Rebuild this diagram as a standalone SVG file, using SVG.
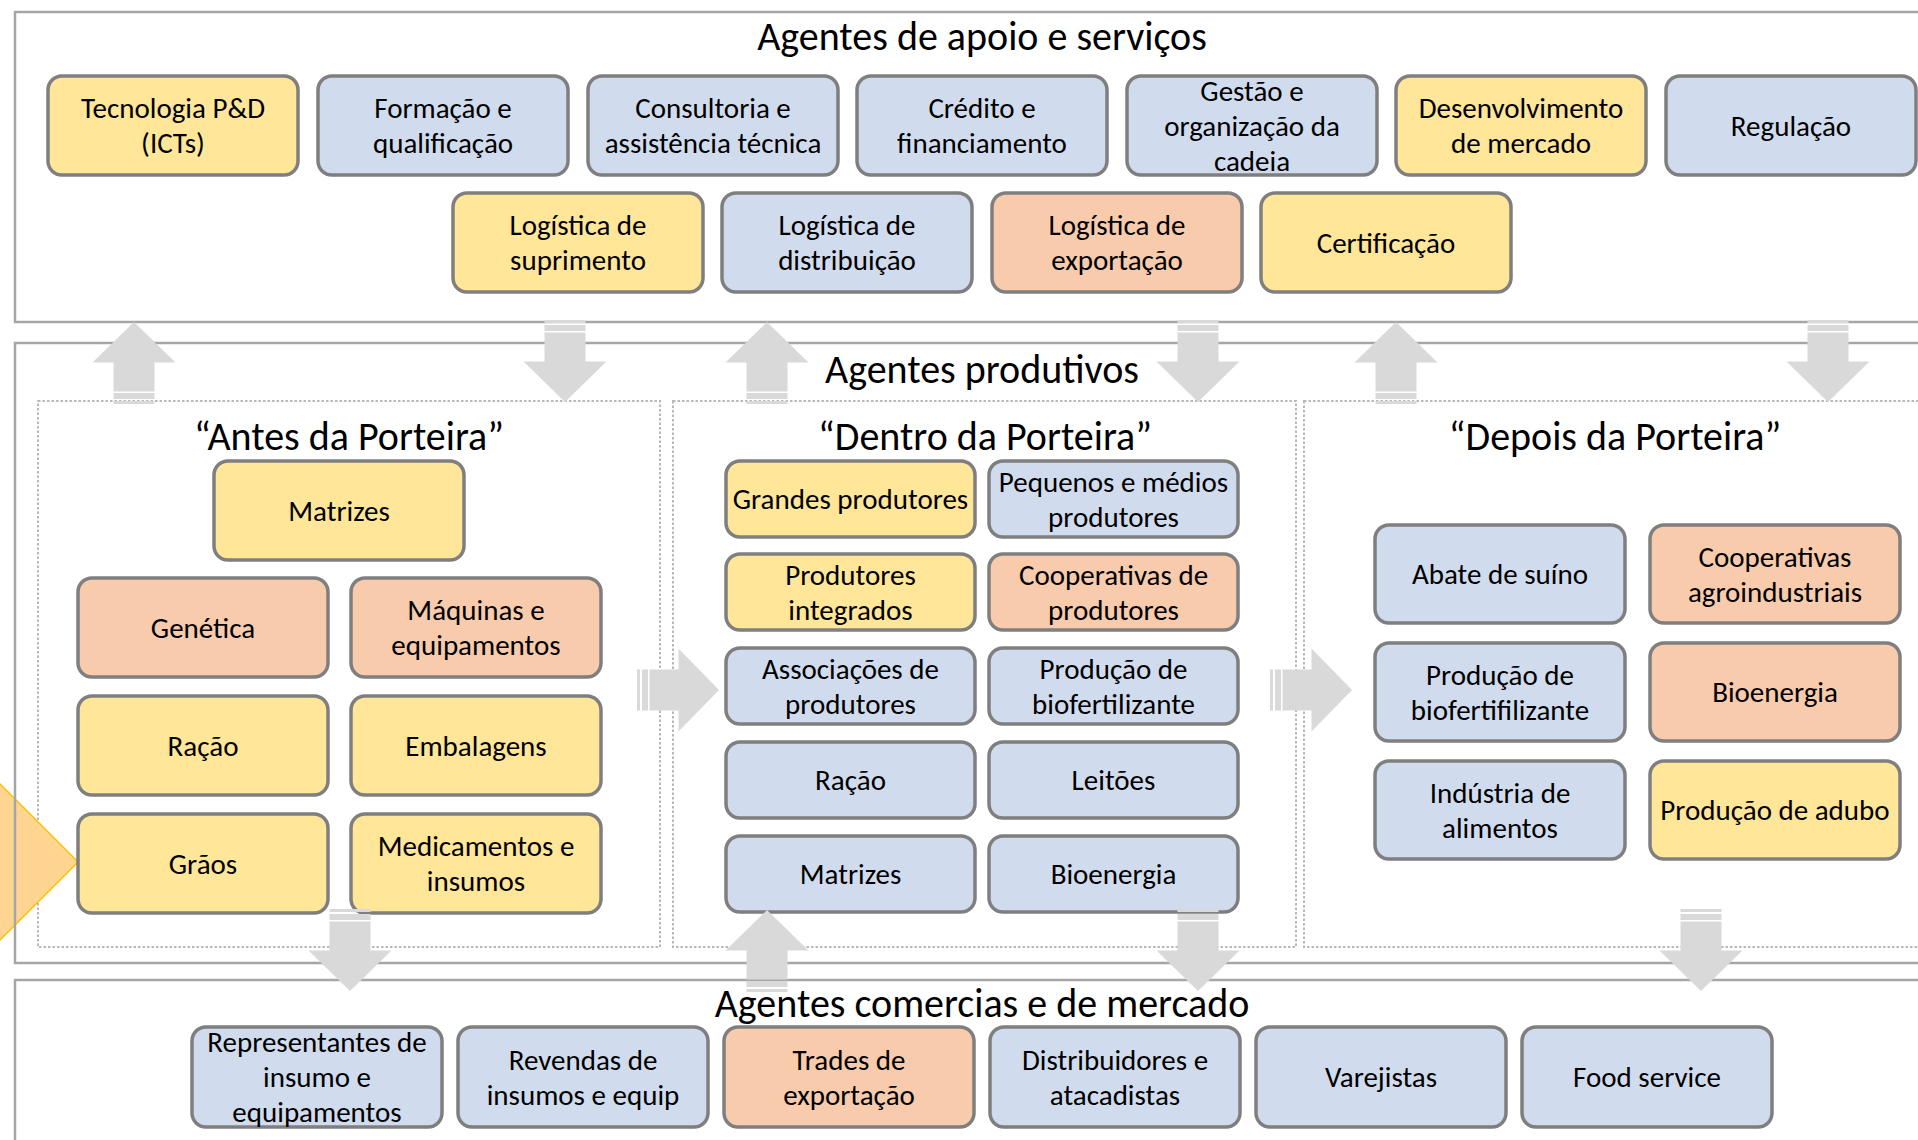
<svg xmlns="http://www.w3.org/2000/svg" xmlns:xlink="http://www.w3.org/1999/xlink" width="1918" height="1140" viewBox="0 0 1918 1140">
<style>
  text { font-family: Carlito, Calibri, Lato, "Liberation Sans", sans-serif; fill: #000; text-anchor: middle; }
  .t { font-size: 40px; }
  .n { font-size: 29px; }
  .frame { fill: none; stroke: #A6A6A6; stroke-width: 2.5; }
  .dot { fill: none; stroke: #B8B8B8; stroke-width: 2; stroke-dasharray: 2.5 2; }
  .box { stroke: #7F7F7F; stroke-width: 3.5; }
  .y { fill: #FFE699; }
  .b { fill: #D0DCEE; }
  .o { fill: #F8CBAD; }
  .arr { fill: #D9D9D9; }
</style>
<defs>
  <g id="arrow" class="arr">
    <rect x="-20.5" y="0" width="41" height="3"/>
    <rect x="-20.5" y="5" width="41" height="6"/>
    <path d="M-20.5 12.5H20.5V41.5H41.5L0 82L-41.5 41.5H-20.5Z"/>
  </g>
</defs>
<rect width="1918" height="1140" fill="#FFFFFF"/>
<g id="background">
  <rect class="dot" x="38" y="401" width="622" height="546"/>
  <rect class="dot" x="673" y="401" width="623" height="546"/>
  <rect class="dot" x="1304" y="401" width="650" height="546"/>
  <polygon points="0,784 78,862 0,940 -78,862" fill="#FFD591" stroke="#FFC000" stroke-width="1.5"/>
  <rect class="frame" x="15" y="12" width="1930" height="310"/>
  <rect class="frame" x="15" y="343" width="1930" height="620"/>
  <rect class="frame" x="15" y="980" width="1930" height="200"/>
</g>
<g id="titles">
  <text class="t" x="982" y="50">Agentes de apoio e serviços</text>
  <text class="t" x="982" y="383">Agentes produtivos</text>
  <text class="t" x="982" y="1017">Agentes comercias e de mercado</text>
  <text class="t" x="349" y="450">“Antes da Porteira”</text>
  <text class="t" x="985" y="450">“Dentro da Porteira”</text>
  <text class="t" x="1615" y="450">“Depois da Porteira”</text>
</g>
<g id="nodes">
  <g id="n-tecnologia"><rect class="box y" x="48" y="76" width="250" height="99" rx="14"/><text class="n" x="173" y="118">Tecnologia P&amp;D</text><text class="n" x="173" y="153">(ICTs)</text></g>
  <g id="n-formacao"><rect class="box b" x="318" y="76" width="250" height="99" rx="14"/><text class="n" x="443" y="118">Formação e</text><text class="n" x="443" y="153">qualificação</text></g>
  <g id="n-consultoria"><rect class="box b" x="588" y="76" width="250" height="99" rx="14"/><text class="n" x="713" y="118">Consultoria e</text><text class="n" x="713" y="153">assistência técnica</text></g>
  <g id="n-credito"><rect class="box b" x="857" y="76" width="250" height="99" rx="14"/><text class="n" x="982" y="118">Crédito e</text><text class="n" x="982" y="153">financiamento</text></g>
  <g id="n-gestao"><rect class="box b" x="1127" y="76" width="250" height="99" rx="14"/><text class="n" x="1252" y="100.5">Gestão e</text><text class="n" x="1252" y="135.5">organização da</text><text class="n" x="1252" y="170.5">cadeia</text></g>
  <g id="n-desenvolvimento"><rect class="box y" x="1396" y="76" width="250" height="99" rx="14"/><text class="n" x="1521" y="118">Desenvolvimento</text><text class="n" x="1521" y="153">de mercado</text></g>
  <g id="n-regulacao"><rect class="box b" x="1666" y="76" width="250" height="99" rx="14"/><text class="n" x="1791" y="135.5">Regulação</text></g>
  <g id="n-log-suprimento"><rect class="box y" x="453" y="193" width="250" height="99" rx="14"/><text class="n" x="578" y="235">Logística de</text><text class="n" x="578" y="270">suprimento</text></g>
  <g id="n-log-distribuicao"><rect class="box b" x="722" y="193" width="250" height="99" rx="14"/><text class="n" x="847" y="235">Logística de</text><text class="n" x="847" y="270">distribuição</text></g>
  <g id="n-log-exportacao"><rect class="box o" x="992" y="193" width="250" height="99" rx="14"/><text class="n" x="1117" y="235">Logística de</text><text class="n" x="1117" y="270">exportação</text></g>
  <g id="n-certificacao"><rect class="box y" x="1261" y="193" width="250" height="99" rx="14"/><text class="n" x="1386" y="252.5">Certificação</text></g>

  <g id="n-antes-matrizes"><rect class="box y" x="214" y="461" width="250" height="99" rx="14"/><text class="n" x="339" y="520.5">Matrizes</text></g>
  <g id="n-genetica"><rect class="box o" x="78" y="578" width="250" height="99" rx="14"/><text class="n" x="203" y="637.5">Genética</text></g>
  <g id="n-maquinas"><rect class="box o" x="351" y="578" width="250" height="99" rx="14"/><text class="n" x="476" y="620">Máquinas e</text><text class="n" x="476" y="655">equipamentos</text></g>
  <g id="n-antes-racao"><rect class="box y" x="78" y="696" width="250" height="99" rx="14"/><text class="n" x="203" y="755.5">Ração</text></g>
  <g id="n-embalagens"><rect class="box y" x="351" y="696" width="250" height="99" rx="14"/><text class="n" x="476" y="755.5">Embalagens</text></g>
  <g id="n-graos"><rect class="box y" x="78" y="814" width="250" height="99" rx="14"/><text class="n" x="203" y="873.5">Grãos</text></g>
  <g id="n-medicamentos"><rect class="box y" x="351" y="814" width="250" height="99" rx="14"/><text class="n" x="476" y="856">Medicamentos e</text><text class="n" x="476" y="891">insumos</text></g>

  <g id="n-grandes"><rect class="box y" x="726" y="461" width="249" height="76" rx="14"/><text class="n" x="850.5" y="509">Grandes produtores</text></g>
  <g id="n-pequenos"><rect class="box b" x="989" y="461" width="249" height="76" rx="14"/><text class="n" x="1113.5" y="491.5">Pequenos e médios</text><text class="n" x="1113.5" y="526.5">produtores</text></g>
  <g id="n-integrados"><rect class="box y" x="726" y="554" width="249" height="76" rx="14"/><text class="n" x="850.5" y="584.5">Produtores</text><text class="n" x="850.5" y="619.5">integrados</text></g>
  <g id="n-coop-produtores"><rect class="box o" x="989" y="554" width="249" height="76" rx="14"/><text class="n" x="1113.5" y="584.5">Cooperativas de</text><text class="n" x="1113.5" y="619.5">produtores</text></g>
  <g id="n-associacoes"><rect class="box b" x="726" y="648" width="249" height="76" rx="14"/><text class="n" x="850.5" y="678.5">Associações de</text><text class="n" x="850.5" y="713.5">produtores</text></g>
  <g id="n-dentro-biofert"><rect class="box b" x="989" y="648" width="249" height="76" rx="14"/><text class="n" x="1113.5" y="678.5">Produção de</text><text class="n" x="1113.5" y="713.5">biofertilizante</text></g>
  <g id="n-dentro-racao"><rect class="box b" x="726" y="742" width="249" height="76" rx="14"/><text class="n" x="850.5" y="790">Ração</text></g>
  <g id="n-leitoes"><rect class="box b" x="989" y="742" width="249" height="76" rx="14"/><text class="n" x="1113.5" y="790">Leitões</text></g>
  <g id="n-dentro-matrizes"><rect class="box b" x="726" y="836" width="249" height="76" rx="14"/><text class="n" x="850.5" y="884">Matrizes</text></g>
  <g id="n-dentro-bioenergia"><rect class="box b" x="989" y="836" width="249" height="76" rx="14"/><text class="n" x="1113.5" y="884">Bioenergia</text></g>

  <g id="n-abate"><rect class="box b" x="1375" y="525" width="250" height="98" rx="14"/><text class="n" x="1500" y="584">Abate de suíno</text></g>
  <g id="n-coop-agro"><rect class="box o" x="1650" y="525" width="250" height="98" rx="14"/><text class="n" x="1775" y="566.5">Cooperativas</text><text class="n" x="1775" y="601.5">agroindustriais</text></g>
  <g id="n-depois-biofert"><rect class="box b" x="1375" y="643" width="250" height="98" rx="14"/><text class="n" x="1500" y="684.5">Produção de</text><text class="n" x="1500" y="719.5">biofertifilizante</text></g>
  <g id="n-depois-bioenergia"><rect class="box o" x="1650" y="643" width="250" height="98" rx="14"/><text class="n" x="1775" y="702">Bioenergia</text></g>
  <g id="n-industria"><rect class="box b" x="1375" y="761" width="250" height="98" rx="14"/><text class="n" x="1500" y="802.5">Indústria de</text><text class="n" x="1500" y="837.5">alimentos</text></g>
  <g id="n-adubo"><rect class="box y" x="1650" y="761" width="250" height="98" rx="14"/><text class="n" x="1775" y="820">Produção de adubo</text></g>

  <g id="n-representantes"><rect class="box b" x="192" y="1027" width="250" height="100" rx="14"/><text class="n" x="317" y="1052">Representantes de</text><text class="n" x="317" y="1087">insumo e</text><text class="n" x="317" y="1122">equipamentos</text></g>
  <g id="n-revendas"><rect class="box b" x="458" y="1027" width="250" height="100" rx="14"/><text class="n" x="583" y="1069.5">Revendas de</text><text class="n" x="583" y="1104.5">insumos e equip</text></g>
  <g id="n-trades"><rect class="box o" x="724" y="1027" width="250" height="100" rx="14"/><text class="n" x="849" y="1069.5">Trades de</text><text class="n" x="849" y="1104.5">exportação</text></g>
  <g id="n-distribuidores"><rect class="box b" x="990" y="1027" width="250" height="100" rx="14"/><text class="n" x="1115" y="1069.5">Distribuidores e</text><text class="n" x="1115" y="1104.5">atacadistas</text></g>
  <g id="n-varejistas"><rect class="box b" x="1256" y="1027" width="250" height="100" rx="14"/><text class="n" x="1381" y="1087">Varejistas</text></g>
  <g id="n-food"><rect class="box b" x="1522" y="1027" width="250" height="100" rx="14"/><text class="n" x="1647" y="1087">Food service</text></g>
</g>
<g id="connectors">
  <use xlink:href="#arrow" transform="translate(134,404) rotate(180)"/>
  <use xlink:href="#arrow" transform="translate(565,320)"/>
  <use xlink:href="#arrow" transform="translate(767,404) rotate(180)"/>
  <use xlink:href="#arrow" transform="translate(1198,320)"/>
  <use xlink:href="#arrow" transform="translate(1396,404) rotate(180)"/>
  <use xlink:href="#arrow" transform="translate(1828,320)"/>
  <use xlink:href="#arrow" transform="translate(637,690) rotate(-90)"/>
  <use xlink:href="#arrow" transform="translate(1270,690) rotate(-90)"/>
  <use xlink:href="#arrow" transform="translate(350,909)"/>
  <use xlink:href="#arrow" transform="translate(767,992) rotate(180)"/>
  <use xlink:href="#arrow" transform="translate(1198,909)"/>
  <use xlink:href="#arrow" transform="translate(1701,909)"/>
</g>
</svg>
